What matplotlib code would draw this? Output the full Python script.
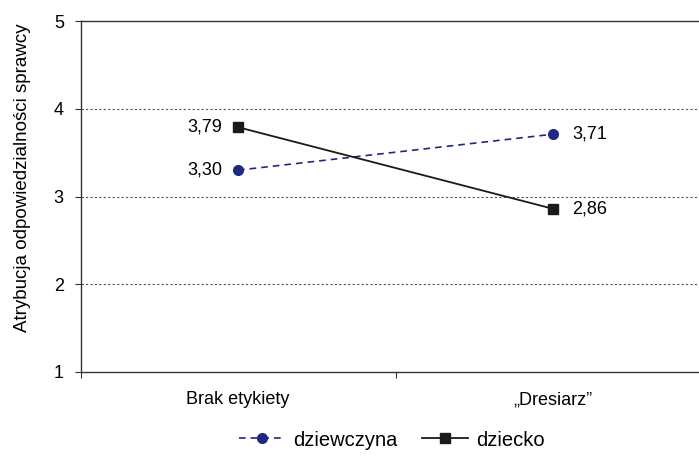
import matplotlib.pyplot as plt

plt.rcParams['font.family'] = ['Liberation Sans', 'DejaVu Sans']

kategorie = ['Brak etykiety', '\u201eDresiarz\u201d']
dziewczyna = [3.30, 3.71]
dziecko = [3.79, 2.86]
etykiety_dziewczyna = ['3,30', '3,71']
etykiety_dziecko = ['3,79', '2,86']

fig = plt.figure(figsize=(6.99, 4.59), dpi=100)
# the plot area runs a little past the right edge of the picture
ax = fig.add_axes([80.5 / 699, 1 - 372 / 459, 630 / 699, 351 / 459])

x = [0.5, 1.5]
granat = '#1f2a7f'
ax.plot(x, dziewczyna, color=granat, linestyle=(0, (4, 3)), linewidth=1.2,
        marker='o', markersize=7, label='dziewczyna', clip_on=False)
ax.plot(x, dziecko, color='#1a1a1a', linestyle='-', linewidth=1.3,
        marker='s', markersize=7.5, label='dziecko', clip_on=False)

rozmiar = 13
ax.annotate(etykiety_dziecko[0], (x[0], dziecko[0]), xytext=(-11.5, 0),
            textcoords='offset points', ha='right', va='center', fontsize=rozmiar)
ax.annotate(etykiety_dziewczyna[0], (x[0], dziewczyna[0]), xytext=(-11.5, 0),
            textcoords='offset points', ha='right', va='center', fontsize=rozmiar)
ax.annotate(etykiety_dziewczyna[1], (x[1], dziewczyna[1]), xytext=(14, 0),
            textcoords='offset points', ha='left', va='center', fontsize=rozmiar)
ax.annotate(etykiety_dziecko[1], (x[1], dziecko[1]), xytext=(14, 0),
            textcoords='offset points', ha='left', va='center', fontsize=rozmiar)

ax.set_xlim(0, 2)
ax.set_ylim(1, 5)
ax.set_yticks([1, 2, 3, 4, 5])
ax.set_xticks([0, 1, 2])
ax.set_xticklabels([])
ax.set_xticks(x, minor=True)
ax.set_xticklabels(kategorie, minor=True)
ax.tick_params(axis='x', which='minor', length=0, pad=14, labelsize=rozmiar)
ax.tick_params(axis='x', which='major', length=4, direction='out', color='#333333')
ax.tick_params(axis='y', length=4, direction='out', labelsize=rozmiar, pad=8, color='#333333')

for g in [2, 3, 4]:
    ax.axhline(g, color='#555555', linestyle=(0, (2, 2)), linewidth=0.8, zorder=0)

ax.spines['right'].set_visible(False)
for s in ['left', 'bottom', 'top']:
    ax.spines[s].set_color('#333333')
    ax.spines[s].set_linewidth(1.0)

ax.set_ylabel('Atrybucja odpowiedzialno\u015bci sprawcy', fontsize=13.5)
ax.yaxis.set_label_coords(-0.078, 0.553)

fig.legend(loc='center', bbox_to_anchor=(392 / 699, 1 - 440 / 459), ncol=2,
           frameon=False, fontsize=14.5, handlelength=2.3, columnspacing=1.2,
           handletextpad=0.4)

fig.savefig('out.png', dpi=100)
